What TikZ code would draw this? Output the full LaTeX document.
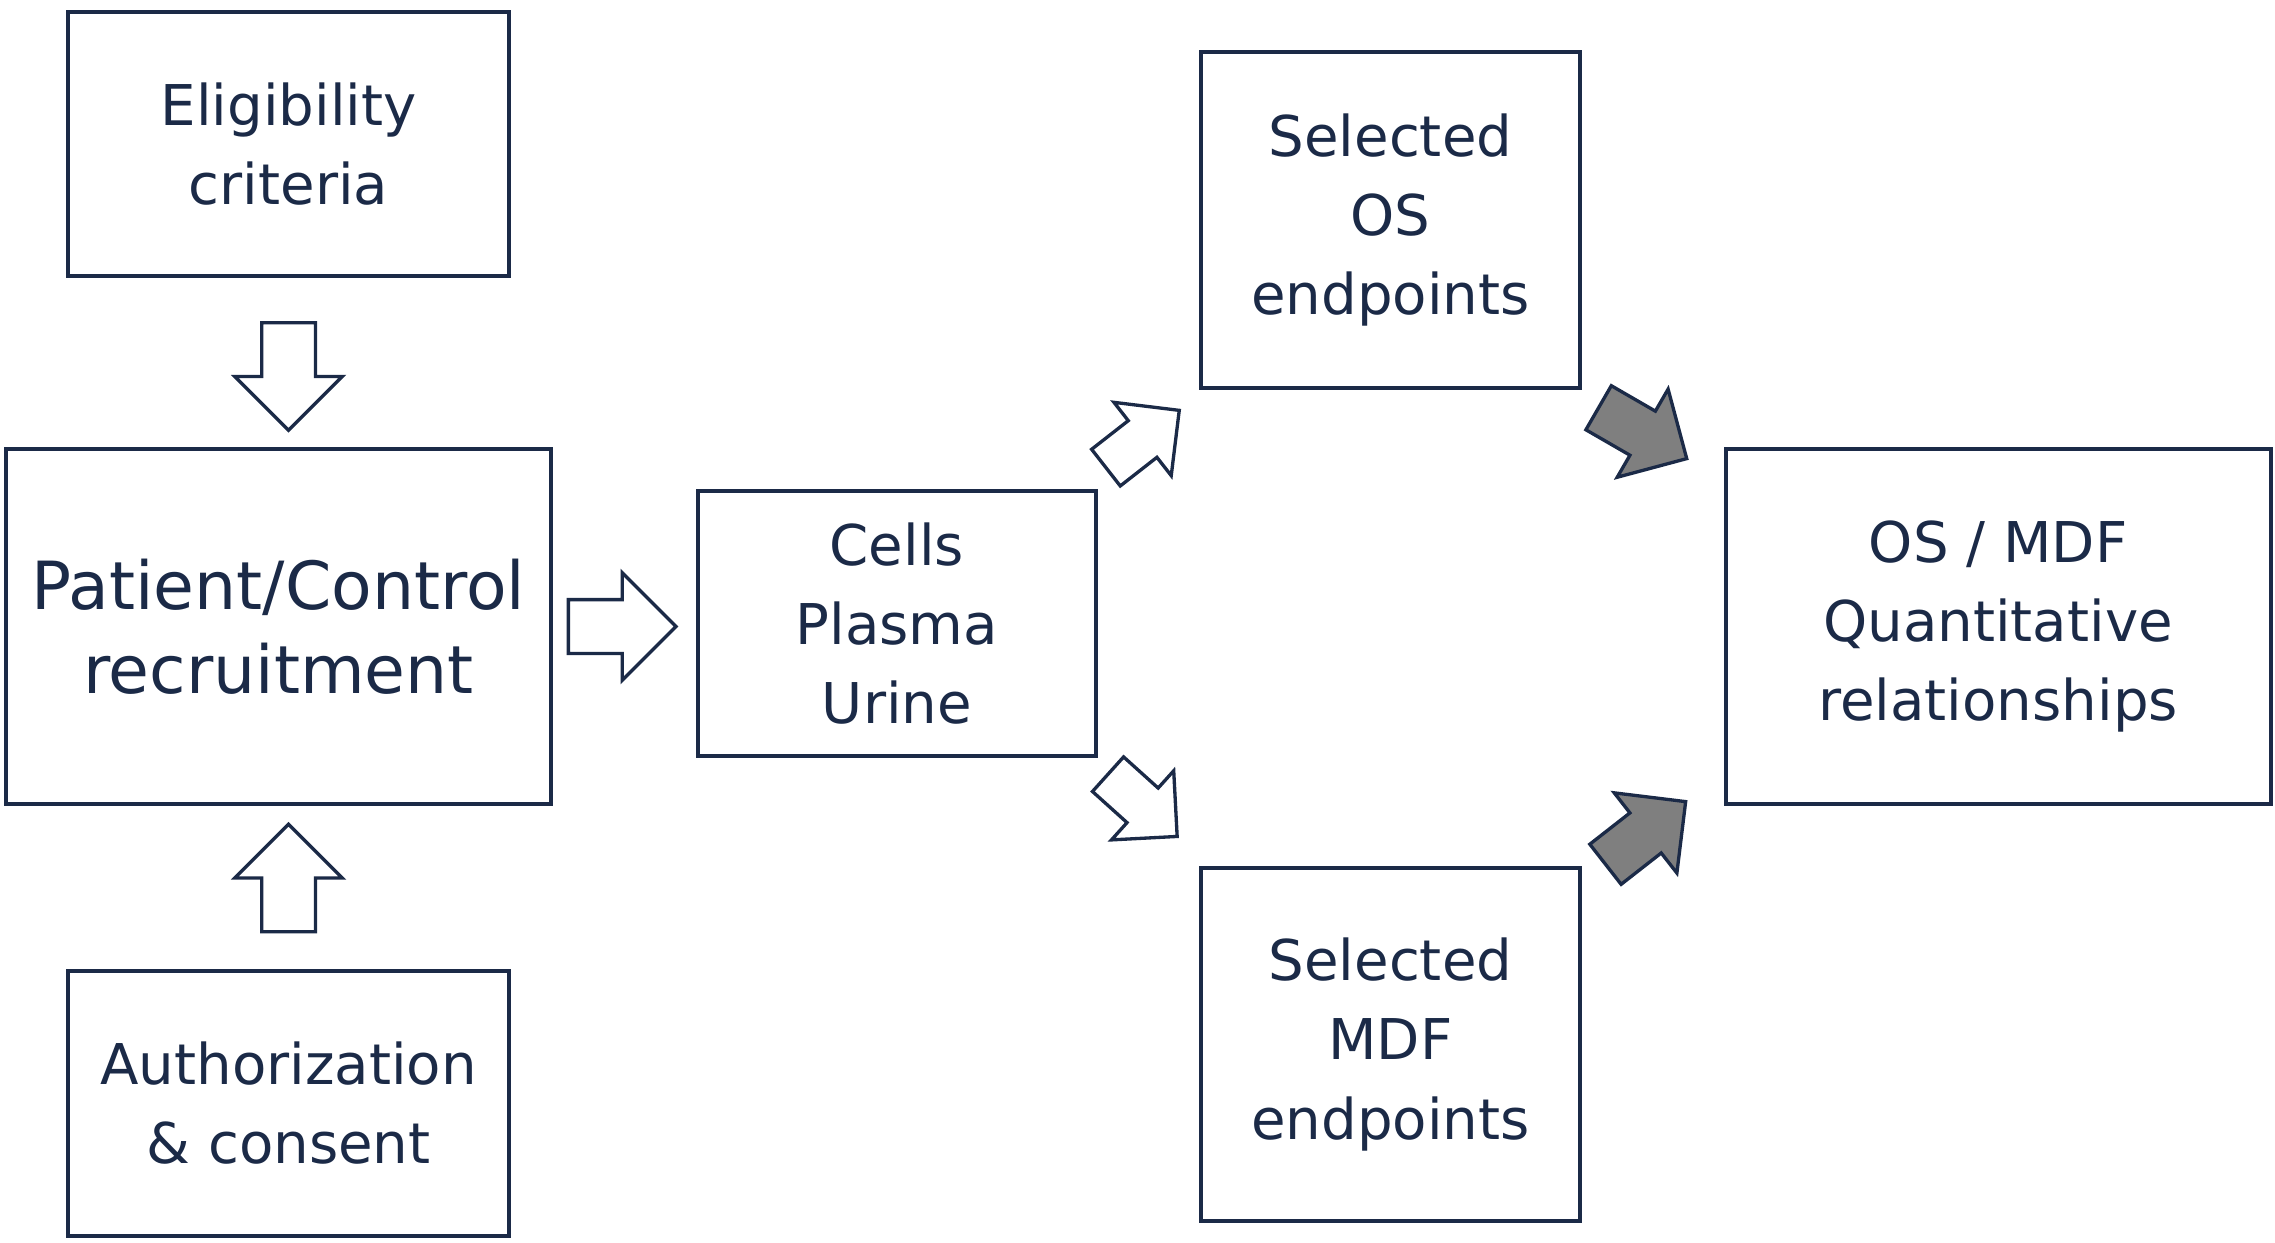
\documentclass[tikz,border=0pt]{standalone}
\usepackage{fontspec}
\setmainfont{DejaVu Sans}
\definecolor{navy}{HTML}{1B2A47}
\definecolor{arrowgray}{HTML}{7F7F7F}
\begin{document}
\begin{tikzpicture}[
    x=0.02cm, y=0.02cm,
    box/.style={draw=navy, line width=1.6pt, text=navy, align=center, inner sep=0pt},
    small/.style={font=\fontsize{22}{31}\selectfont},
    big/.style={font=\fontsize{26}{33}\selectfont},
    blockarrow/.pic={\draw[pic actions] (-0.5,-0.25)--(0,-0.25)--(0,-0.5)--(0.5,0)--(0,0.5)--(0,0.25)--(-0.5,0.25)--cycle;},
    hollow/.style={draw=navy, line width=1.3pt, fill=white},
    solid/.style={draw=navy, line width=1.3pt, fill=arrowgray}
]
    \useasboundingbox (0,0) rectangle (1565,855);

    % boxes (x from left, y from bottom)
    \node[box, small, minimum width=6.06cm, minimum height=3.64cm] (elig) at (198.5,756) {Eligibility\\criteria};
    \node[box, big, minimum width=7.5cm, minimum height=4.88cm] (recruit) at (191.5,424) {Patient/Control\\recruitment};
    \node[box, small, minimum width=6.06cm, minimum height=3.64cm] (auth) at (198.5,96) {Authorization\\\& consent};
    \node[box, small, minimum width=5.48cm, minimum height=3.64cm] (samples) at (617,426) {Cells\\Plasma\\Urine};
    \node[box, small, minimum width=5.22cm, minimum height=4.62cm] (osend) at (956.5,703.5) {Selected\\OS\\endpoints};
    \node[box, small, minimum width=5.22cm, minimum height=4.86cm] (mdfend) at (956.5,136.5) {Selected\\MDF\\endpoints};
    \node[box, small, minimum width=7.5cm, minimum height=4.88cm] (quant) at (1374.5,424) {OS / MDF\\Quantitative\\relationships};

    % block arrows
    \pic[hollow, scale=74, rotate=-90] at (198.5,596) {blockarrow};
    \pic[hollow, scale=74, rotate=90] at (198.5,251) {blockarrow};
    \pic[hollow, scale=74] at (428,424) {blockarrow};
    \pic[hollow, scale=64, rotate=38] at (786,553) {blockarrow};
    \pic[hollow, scale=64, rotate=-42] at (786,301) {blockarrow};
    \pic[solid, scale=70, rotate=-30] at (1130,557) {blockarrow};
    \pic[solid, scale=70, rotate=38] at (1132,282) {blockarrow};
\end{tikzpicture}
\end{document}
